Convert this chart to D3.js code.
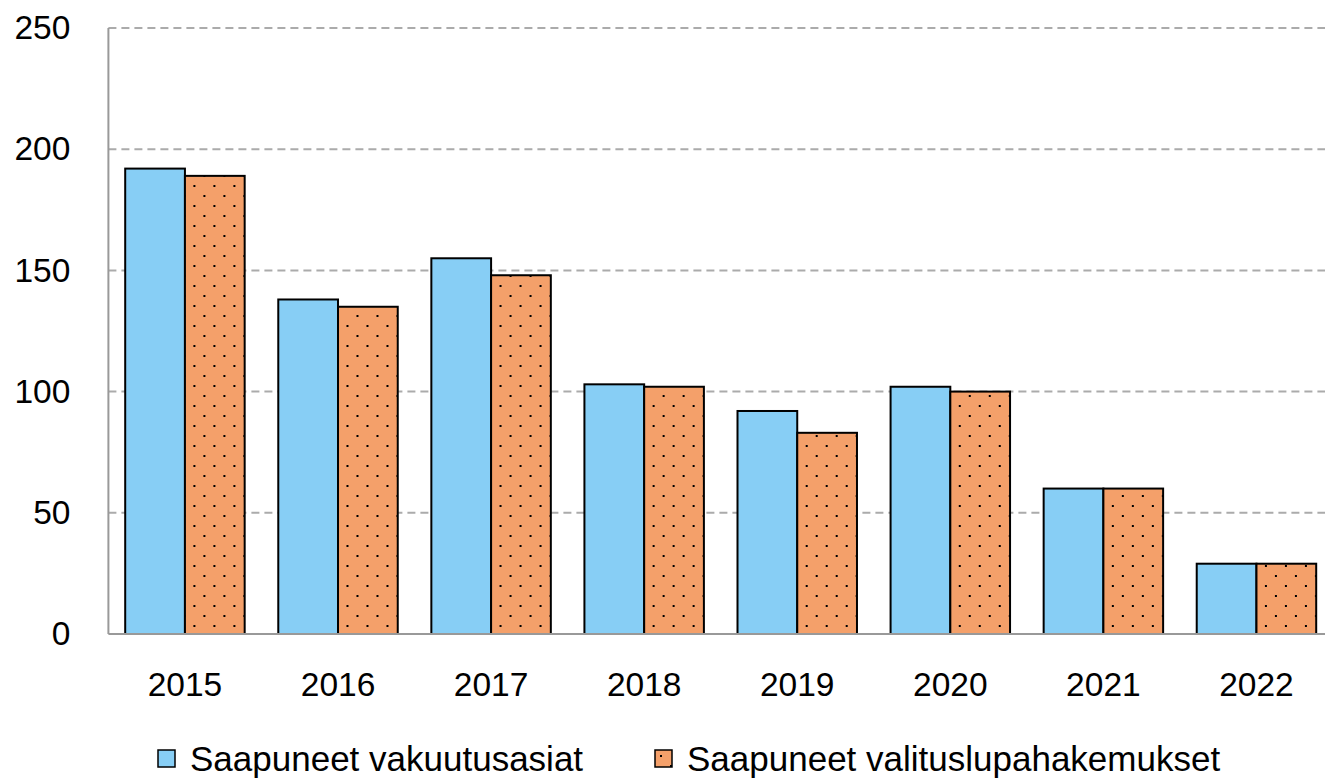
<!DOCTYPE html>
<html>
<head>
<meta charset="utf-8">
<script src="https://cdn.jsdelivr.net/npm/d3@7"></script>
<style>
  html, body { margin: 0; padding: 0; background: #fff; }
  svg { display: block; font-family: "Liberation Sans", Arial, sans-serif; }
</style>
</head>
<body>
<svg id="chart" width="1325" height="779"></svg>
<script>
// Incoming cases per year
const years = ["2015", "2016", "2017", "2018", "2019", "2020", "2021", "2022"];
const insuranceCases = [192, 138, 155, 103, 92, 102, 60, 29];
const leaveApplications = [189, 135, 148, 102, 83, 100, 60, 29];
const seriesNames = ["Saapuneet vakuutusasiat", "Saapuneet valituslupahakemukset"];
const yTicks = [0, 50, 100, 150, 200, 250];

const svg = d3.select("#chart");
const margin = { left: 108.4, top: 28, right: -8, bottom: 145 };
const W = 1325, H = 779;
const FONT = 33.5;
const LEGEND_FONT = 35;
const plotRight = W - margin.right;
const plotBottom = H - margin.bottom;

// Dotted fill for the second series
const defs = svg.append("defs");
const pat = defs.append("pattern")
  .attr("id", "dots")
  .attr("patternUnits", "userSpaceOnUse")
  .attr("width", 20).attr("height", 20);
pat.append("rect").attr("width", 20).attr("height", 20).attr("fill", "#F4A06A");
pat.append("rect").attr("x", 5).attr("y", 5).attr("width", 2).attr("height", 2).attr("fill", "#000");
pat.append("rect").attr("x", 15).attr("y", 15).attr("width", 2).attr("height", 2).attr("fill", "#000");

const x = d3.scaleBand().domain(years).range([margin.left, plotRight]).paddingInner(0).paddingOuter(0);
const groupPad = 16.8;
const inner = d3.scaleBand().domain([0, 1]).range([groupPad, x.bandwidth() - groupPad]).padding(0);
const y = d3.scaleLinear().domain([0, 250]).range([plotBottom, margin.top]);

// Gridlines
svg.append("g")
  .selectAll("line")
  .data(yTicks.filter(d => d > 0))
  .join("line")
  .attr("x1", margin.left).attr("x2", W)
  .attr("y1", d => y(d)).attr("y2", d => y(d))
  .attr("stroke", "#ababab").attr("stroke-width", 2)
  .attr("stroke-dasharray", "8,5");

// Y axis labels
const yAxis = d3.axisLeft(y).tickValues(yTicks).tickSize(0).tickPadding(38);
const gy = svg.append("g").attr("transform", `translate(${margin.left},0)`).call(yAxis);
gy.select(".domain").remove();
gy.selectAll("text").attr("font-size", FONT).attr("fill", "#000")
  .attr("font-family", "Liberation Sans, Arial, sans-serif");

// Bars
const colors = ["#87CEF5", "url(#dots)"];
const groups = svg.append("g")
  .selectAll("g")
  .data(years.map((yr, i) => ({ yr, vals: [insuranceCases[i], leaveApplications[i]] })))
  .join("g")
  .attr("transform", d => `translate(${x(d.yr)},0)`);

groups.selectAll("rect")
  .data(d => d.vals.map((v, k) => ({ v, k })))
  .join("rect")
  .attr("x", d => inner(d.k))
  .attr("width", inner.bandwidth())
  .attr("y", d => y(d.v))
  .attr("height", d => y(0) - y(d.v))
  .attr("fill", d => colors[d.k])
  .attr("stroke", "#000").attr("stroke-width", 2);

// Axis lines
svg.append("line")
  .attr("x1", margin.left).attr("x2", margin.left)
  .attr("y1", margin.top).attr("y2", y(0))
  .attr("stroke", "#999").attr("stroke-width", 2);
svg.append("line")
  .attr("x1", margin.left).attr("x2", W)
  .attr("y1", y(0)).attr("y2", y(0))
  .attr("stroke", "#999").attr("stroke-width", 2);

// X axis labels
const xAxis = d3.axisBottom(x).tickSize(0).tickPadding(38);
const gx = svg.append("g").attr("transform", `translate(0,${y(0)})`).call(xAxis);
gx.select(".domain").remove();
gx.selectAll("text").attr("font-size", FONT).attr("fill", "#000")
  .attr("font-family", "Liberation Sans, Arial, sans-serif");

// Legend
const legendItems = [
  { name: seriesNames[0], fill: colors[0], x: 158 },
  { name: seriesNames[1], fill: colors[1], x: 655 }
];
const lg = svg.append("g").selectAll("g").data(legendItems).join("g")
  .attr("transform", d => `translate(${d.x},750)`);
lg.append("rect").attr("width", 17).attr("height", 17)
  .attr("fill", d => d.fill).attr("stroke", "#000").attr("stroke-width", 1.5);
lg.append("text").attr("x", 32).attr("y", 21)
  .attr("font-size", LEGEND_FONT).attr("fill", "#000")
  .text(d => d.name);
</script>
</body>
</html>
